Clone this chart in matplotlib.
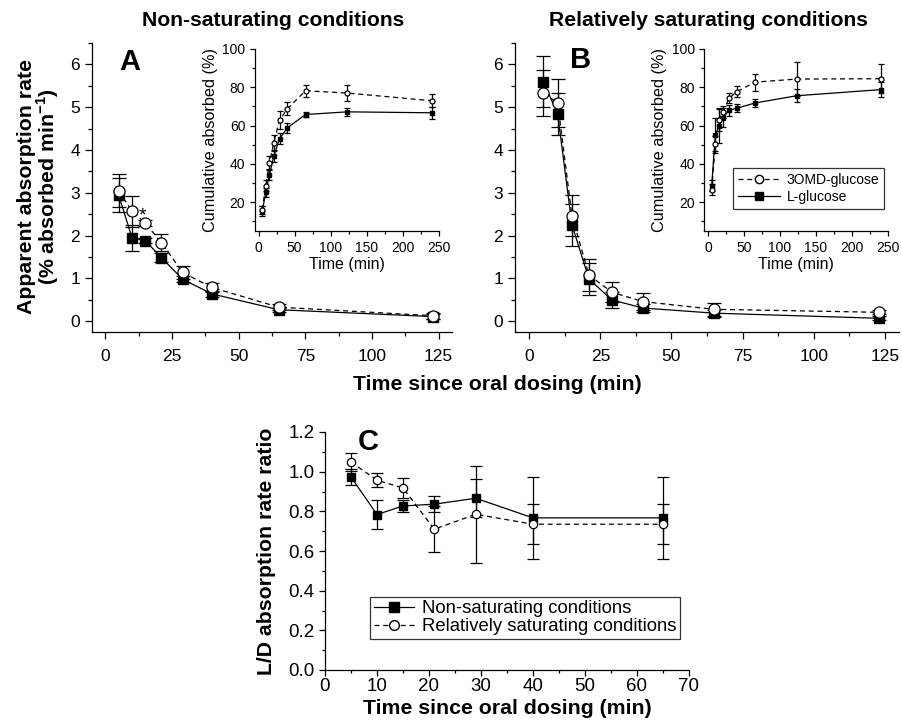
import numpy as np
import matplotlib.pyplot as plt
from matplotlib.ticker import MultipleLocator

plt.rcParams['font.family'] = ['Liberation Sans', 'DejaVu Sans']
plt.rcParams['mathtext.fontset'] = 'custom'
plt.rcParams['mathtext.rm'] = 'Liberation Sans'
plt.rcParams['mathtext.bf'] = 'Liberation Sans:bold'

# main panels: apparent absorption rate (% absorbed / min)
t_rate = [5, 10, 15, 21, 29, 40, 65, 123]
a_omd = [3.05, 2.57, 2.29, 1.84, 1.14, 0.79, 0.33, 0.13]
a_omd_err = [0.38, 0.36, 0.07, 0.2, 0.15, 0.1, 0.07, 0.07]
a_lg = [2.95, 1.95, 1.88, 1.49, 0.98, 0.64, 0.27, 0.11]
a_lg_err = [0.4, 0.3, 0.06, 0.1, 0.07, 0.07, 0.05, 0.05]

b_omd = [5.33, 5.1, 2.47, 1.08, 0.68, 0.46, 0.28, 0.21]
b_omd_err = [0.53, 0.57, 0.47, 0.37, 0.24, 0.2, 0.15, 0.05]
b_lg = [5.6, 4.84, 2.26, 0.99, 0.5, 0.31, 0.19, 0.07]
b_lg_err = [0.6, 0.5, 0.49, 0.37, 0.18, 0.1, 0.08, 0.05]

# insets: cumulative absorbed (%)
t_cum = [5, 10, 15, 21, 29, 40, 65, 123, 240]
ia_omd = [16, 28.7, 40.4, 51.1, 62.9, 68.9, 78.2, 77, 73]
ia_omd_err = [2, 3, 3.5, 4, 4.5, 3.5, 3, 4, 3.5]
ia_lg = [15.4, 25.2, 34.4, 43.9, 53.2, 58.9, 65.8, 67.2, 66.7]
ia_lg_err = [2.5, 2.5, 3, 3, 3, 2.5, 1.5, 2, 3]

ib_omd = [26.6, 50.6, 63.2, 67, 74.3, 77.7, 82.7, 84.3, 84.5]
ib_omd_err = [3, 4, 6, 3, 2.5, 3, 4.5, 9, 7.5]
ib_lg = [28.7, 54.9, 59.8, 64.1, 68, 69.1, 71.8, 75.6, 78.8]
ib_lg_err = [3, 9, 9, 5, 3, 2, 2, 3.5, 4]

# panel C: L/D ratio
t_ratio = [5, 10, 15, 21, 29, 40, 65]
c_non = [0.973, 0.784, 0.827, 0.836, 0.866, 0.767, 0.767]
c_non_err = [0.04, 0.075, 0.03, 0.04, 0.095, 0.207, 0.207]
c_sat = [1.049, 0.957, 0.918, 0.71, 0.785, 0.735, 0.735]
c_sat_err = [0.045, 0.035, 0.05, 0.115, 0.245, 0.1, 0.1]

W, H = 903, 728
fig = plt.figure(figsize=(9.03, 7.28), dpi=100)
DASH = (0, (4, 3))


def box(x0, x1, y0, y1):
    # pixel box -> figure fraction
    return [x0 / W, 1 - y1 / H, (x1 - x0) / W, (y1 - y0) / H]


def style(ax, fs, tl=4.0):
    for s in ['top', 'right']:
        ax.spines[s].set_visible(False)
    for s in ['left', 'bottom']:
        ax.spines[s].set_linewidth(0.9)
    ax.tick_params(which='major', direction='out', length=tl, width=0.9, labelsize=fs)
    ax.tick_params(which='minor', direction='out', length=tl * 0.55, width=0.9)


def series(ax, x, y, e, kind, ms, cs):
    if kind == 'lg':
        ax.errorbar(x, y, yerr=e, color='black', lw=0.9, ls='-', marker='s', ms=ms,
                    mfc='black', mec='black', capsize=cs, elinewidth=0.9, capthick=0.9,
                    zorder=3)
    else:
        ax.errorbar(x, y, yerr=e, color='black', lw=0.9, ls=DASH, marker='o', ms=ms,
                    mfc='white', mec='black', mew=0.9, capsize=cs, elinewidth=0.9,
                    capthick=0.9, zorder=4)


axes_main = []
for pos, omd, omde, lg, lge in [(box(92, 452, 43, 332), a_omd, a_omd_err, a_lg, a_lg_err),
                                (box(515, 899, 43, 332), b_omd, b_omd_err, b_lg, b_lg_err)]:
    ax = fig.add_axes(pos)
    series(ax, t_rate, lg, lge, 'lg', 6.5, 5)
    series(ax, t_rate, omd, omde, 'omd', 8, 5)
    ax.set_xlim(-5, 130)
    ax.set_ylim(-0.25, 6.5)
    ax.set_xticks([0, 25, 50, 75, 100, 125])
    ax.xaxis.set_minor_locator(MultipleLocator(12.5))
    ax.set_yticks(range(7))
    ax.yaxis.set_minor_locator(MultipleLocator(0.5))
    style(ax, 12.5, tl=5)
    ax.tick_params(axis='x', pad=7)
    axes_main.append(ax)
axA, axB = axes_main

axA.text(13.8, 2.45, '*', fontsize=14, ha='center', va='center')

# insets
insets = []
for pos, omd, omde, lg, lge in [(box(255, 439, 49, 231), ia_omd, ia_omd_err, ia_lg, ia_lg_err),
                                (box(704.5, 888, 49, 231), ib_omd, ib_omd_err, ib_lg, ib_lg_err)]:
    ax = fig.add_axes(pos)
    series(ax, t_cum, lg, lge, 'lg', 3.2, 2.5)
    series(ax, t_cum, omd, omde, 'omd', 3.6, 2.5)
    ax.set_xlim(-5, 250)
    ax.set_ylim(5, 100)
    ax.set_xticks([0, 50, 100, 150, 200, 250])
    ax.xaxis.set_minor_locator(MultipleLocator(25))
    ax.set_yticks([20, 40, 60, 80, 100])
    ax.yaxis.set_minor_locator(MultipleLocator(10))
    style(ax, 10, tl=3.5)
    ax.set_xlabel('Time (min)', fontsize=11.5, labelpad=2)
    ax.set_ylabel('Cumulative absorbed (%)', fontsize=11.7, labelpad=3)
    ax.patch.set_alpha(0)
    insets.append(ax)
insB = insets[1]

h1 = insB.errorbar([], [], yerr=[], color='black', lw=0.9, ls=DASH, marker='o', ms=6,
                   mfc='white', mec='black')
h2 = insB.errorbar([], [], yerr=[], color='black', lw=0.9, marker='s', ms=6,
                   mfc='black', mec='black')
lg = insB.legend([h1.lines[0], h2.lines[0]], ['3OMD-glucose', 'L-glucose'], fontsize=10,
                 loc='lower right', bbox_to_anchor=(0.978, 0.121), borderaxespad=0,
                 frameon=True, fancybox=False, handlelength=3.0, borderpad=0.35,
                 labelspacing=0.25, handletextpad=0.5)
lg.get_frame().set_edgecolor('black')
lg.get_frame().set_linewidth(0.9)

# panel C
axC = fig.add_axes(box(325, 689, 432, 670))
series(axC, t_ratio, c_non, c_non_err, 'lg', 5.5, 4)
series(axC, t_ratio, c_sat, c_sat_err, 'omd', 6, 4)
axC.set_xlim(0, 70)
axC.set_ylim(0, 1.2)
axC.set_xticks(range(0, 71, 10))
axC.xaxis.set_minor_locator(MultipleLocator(5))
axC.set_yticks(np.arange(0, 1.21, 0.2))
axC.set_yticklabels(['%.1f' % v for v in np.arange(0, 1.21, 0.2)])
axC.yaxis.set_minor_locator(MultipleLocator(0.1))
style(axC, 13.5, tl=4)
axC.tick_params(axis='x', pad=1.5)
axC.set_xlabel('Time since oral dosing (min)', fontsize=15.3, fontweight='bold', labelpad=3)
axC.set_ylabel('L/D absorption rate ratio', fontsize=15.3, fontweight='bold', labelpad=9)

hc1 = axC.errorbar([], [], yerr=[], color='black', lw=0.9, marker='s', ms=6.5,
                   mfc='black', mec='black')
hc2 = axC.errorbar([], [], yerr=[], color='black', lw=0.9, ls=DASH, marker='o', ms=7,
                   mfc='white', mec='black')
lc = axC.legend([hc1.lines[0], hc2.lines[0]],
                ['Non-saturating conditions', 'Relatively saturating conditions'],
                fontsize=13.3, loc='lower left', bbox_to_anchor=(0.124, 0.13),
                borderaxespad=0, frameon=True, fancybox=False, handlelength=2.2,
                borderpad=0.2, labelspacing=0.05, handletextpad=0.4)
lc.get_frame().set_edgecolor('black')
lc.get_frame().set_linewidth(0.9)

# figure texts
fig.text(273 / W, 1 - 21 / H, 'Non-saturating conditions', fontsize=15.2, fontweight='bold',
         ha='center', va='center')
fig.text(708 / W, 1 - 21 / H, 'Relatively saturating conditions', fontsize=15.2,
         fontweight='bold', ha='center', va='center')
fig.text(39 / W, 1 - 187 / H, 'Apparent absorption rate\n(% absorbed min$^{\\mathbf{-1}}$)',
         fontsize=15.3, fontweight='bold', rotation=90, ha='center', va='center',
         multialignment='center', linespacing=0.95)
fig.text(497 / W, 1 - 385 / H, 'Time since oral dosing (min)', fontsize=15.3,
         fontweight='bold', ha='center', va='center')
fig.text(130 / W, 1 - 62 / H, 'A', fontsize=21, fontweight='bold', ha='center', va='center')
fig.text(581 / W, 1 - 60 / H, 'B', fontsize=21, fontweight='bold', ha='center', va='center')
fig.text(368 / W, 1 - 442 / H, 'C', fontsize=21, fontweight='bold', ha='center', va='center')

fig.savefig('out.png', dpi=100)
